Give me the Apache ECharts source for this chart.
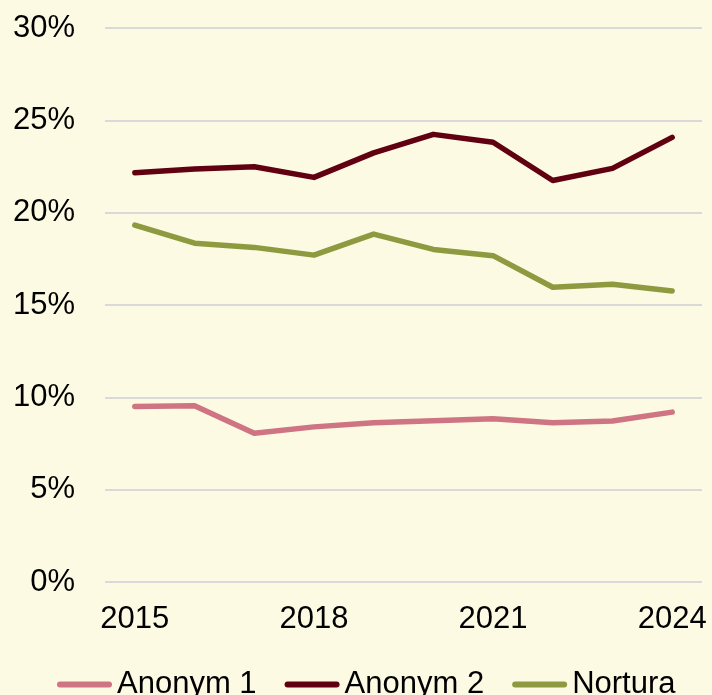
<!DOCTYPE html>
<html>
<head>
<meta charset="utf-8">
<script src="https://cdn.jsdelivr.net/npm/echarts@6/dist/echarts.min.js"></script>
<style>
  html, body { margin: 0; padding: 0; background: #FDFAE3; }
  #chart { width: 712px; height: 695px; }
</style>
</head>
<body>
<div id="chart"></div>
<script>
// Years on the x axis
const years = ['2015', '2016', '2017', '2018', '2019', '2020', '2021', '2022', '2023', '2024'];

// Shares in percent per year
const anonym1 = [9.5, 9.55, 8.05, 8.4, 8.62, 8.73, 8.84, 8.62, 8.72, 9.2];
const anonym2 = [22.16, 22.37, 22.49, 21.91, 23.24, 24.24, 23.81, 21.74, 22.4, 24.08];
const nortura = [19.33, 18.35, 18.12, 17.7, 18.84, 18.01, 17.67, 15.96, 16.12, 15.76];

// Y axis ticks (percent)
const yTicks = [0, 5, 10, 15, 20, 25, 30];

const FONT = 'Liberation Sans, Arial, sans-serif';
const FONT_SIZE = 31;

// Pill-shaped legend marker (a thick line with round ends)
const PILL = 'path://M3,0 L52,0 A3,3 0 0 1 52,6 L3,6 A3,3 0 0 1 3,0 Z';

const chart = echarts.init(document.getElementById('chart'), null, { renderer: 'canvas' });

function lineSeries(name, data, color) {
  return {
    name: name,
    type: 'line',
    data: data,
    symbol: 'none',
    lineStyle: { width: 5.5, color: color, cap: 'round', join: 'round' },
    itemStyle: { color: color },
    emphasis: { disabled: true },
    animation: false
  };
}

chart.setOption({
  backgroundColor: '#FDFAE3',
  animation: false,
  grid: { left: 105, right: 10, top: 28, bottom: 113, containLabel: false },
  legend: {
    left: 52,
    top: 664,
    icon: PILL,
    itemWidth: 55,
    itemHeight: 6,
    itemGap: 28,
    textStyle: { fontFamily: FONT, fontSize: FONT_SIZE, color: '#000' },
    data: ['Anonym 1', 'Anonym 2', 'Nortura']
  },
  xAxis: {
    type: 'category',
    data: years,
    boundaryGap: true,
    axisLine: { show: false },
    axisTick: { show: false },
    axisLabel: {
      interval: 2,
      margin: 22,
      fontFamily: FONT,
      fontSize: FONT_SIZE,
      color: '#000'
    }
  },
  yAxis: {
    type: 'value',
    min: yTicks[0],
    max: yTicks[yTicks.length - 1],
    interval: 5,
    axisLine: { show: false },
    axisTick: { show: false },
    splitLine: { lineStyle: { color: '#D9D9D9', width: 2 } },
    axisLabel: {
      margin: 30,
      fontFamily: FONT,
      fontSize: FONT_SIZE,
      color: '#000',
      formatter: v => v + '%'
    }
  },
  series: [
    lineSeries('Anonym 1', anonym1, '#CE7482'),
    lineSeries('Anonym 2', anonym2, '#600010'),
    lineSeries('Nortura', nortura, '#8E9A40')
  ]
});
</script>
</body>
</html>
